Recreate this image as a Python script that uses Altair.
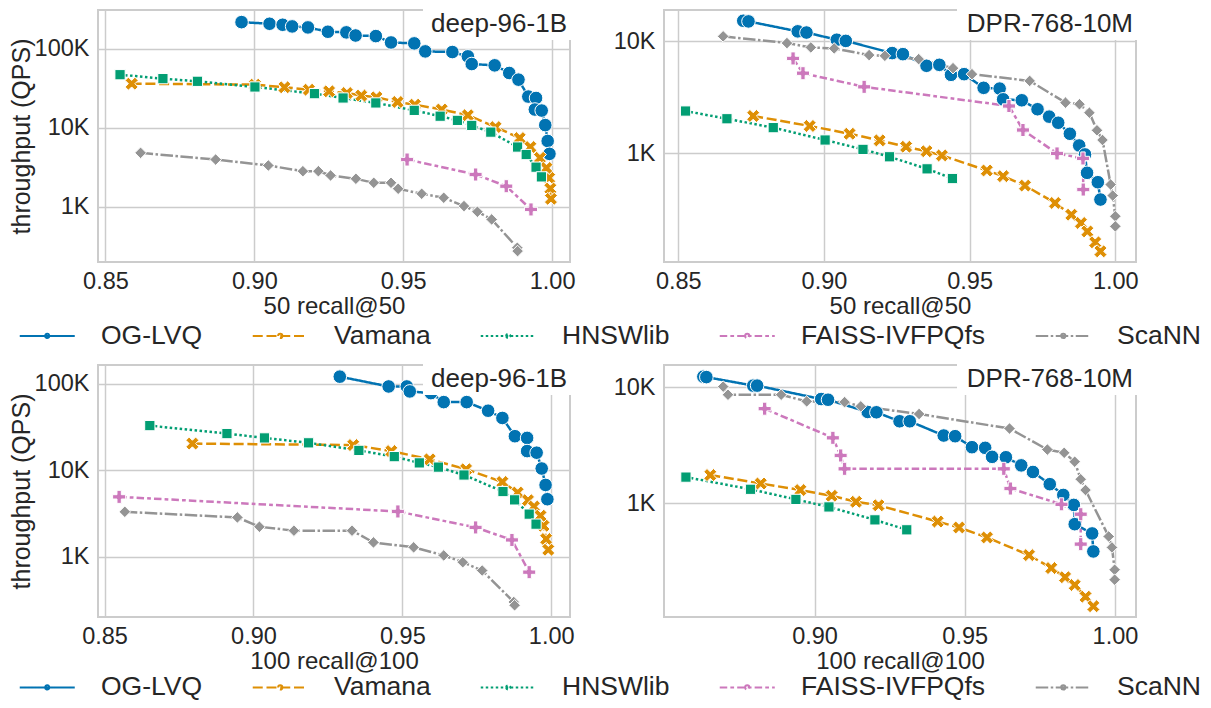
import altair as alt
import pandas as pd

FONT = "Liberation Sans"
TXT = "#262626"

METHODS = ["OG-LVQ", "Vamana", "HNSWlib", "FAISS-IVFPQfs", "ScaNN"]
COLORS = ["#0173b2", "#de8f05", "#029e73", "#cc78bc", "#949494"]
DASHES = [[1, 0], [10, 3.75], [2.5, 2.5], [7.5, 3.1, 3.75, 3.1], [12.5, 2.5, 2.5, 2.5]]
X_PATH = "M0.5,-1L1,-0.5L0.5,0L1,0.5L0.5,1L0,0.5L-0.5,1L-1,0.5L-0.5,0L-1,-0.5L-0.5,-1L0,-0.5Z"
P_PATH = "M-0.333,-1H0.333V-0.333H1V0.333H0.333V1H-0.333V0.333H-1V-0.333H-0.333Z"
SHAPES = ["circle", X_PATH, "square", P_PATH, "diamond"]
SIZES = [185, 170, 105, 170, 135]
LEGEND_SYMBOL = "M-3.93,0H3.93M-0.3,0A0.3,0.3,0,1,1,0.3,0A0.3,0.3,0,1,1,-0.3,0"

# ---------------- deep-96-1B, 50 recall@50 ----------------
d50_oglvq_recall = [0.8957, 0.9051, 0.9095, 0.9127, 0.9180, 0.9247, 0.9309, 0.9340, 0.9408, 0.9459,
                    0.9537, 0.9574, 0.9665, 0.9717, 0.9730, 0.9807, 0.9856, 0.9887, 0.9920, 0.9946,
                    0.9942, 0.9965, 0.9977, 0.9985, 0.9991]
d50_oglvq_qps = [217e3, 207e3, 201e3, 191.5e3, 186e3, 164e3, 161e3, 147e3, 144.5e3, 120e3,
                 116.8e3, 92.5e3, 90.8e3, 80e3, 64e3, 61.6e3, 49.3e3, 40.6e3, 24.8e3, 23.8e3,
                 17e3, 16.5e3, 10.8e3, 6.8e3, 4.67e3]
d50_vamana_recall = [0.8588, 0.9002, 0.9101, 0.9183, 0.9251, 0.9311, 0.9359, 0.9410, 0.9481, 0.9539,
                     0.9629, 0.9717, 0.9810, 0.9891, 0.9927, 0.9959, 0.9981, 0.9990, 0.9994, 0.9996]
d50_vamana_qps = [36.1e3, 35.1e3, 32.5e3, 30.3e3, 28.9e3, 27.5e3, 25.5e3, 24.3e3, 21.2e3, 19.6e3,
                  17.0e3, 14.4e3, 10.2e3, 7.4e3, 5.7e3, 4.16e3, 3.1e3, 2.32e3, 1.7e3, 1.26e3]
d50_hnsw_recall = [0.8549, 0.8693, 0.8809, 0.9002, 0.9202, 0.9298, 0.9408, 0.9537, 0.9624, 0.9682,
                   0.9730, 0.9794, 0.9884, 0.9913, 0.9946, 0.9964]
d50_hnsw_qps = [46.9e3, 41.8e3, 38.7e3, 32.8e3, 27.0e3, 23.8e3, 20.6e3, 16.6e3, 14.0e3, 12.4e3,
                10.7e3, 8.8e3, 5.7e3, 4.58e3, 3.17e3, 2.39e3]
d50_faiss_recall = [0.9513, 0.9743, 0.9846, 0.9929]
d50_faiss_qps = [3.96e3, 2.56e3, 1.82e3, 925]
d50_scann_recall = [0.8618, 0.8870, 0.9047, 0.9163, 0.9215, 0.9256, 0.9341, 0.9401, 0.9459, 0.9483,
                    0.9562, 0.9636, 0.9704, 0.9749, 0.9797, 0.9883, 0.9884]
d50_scann_qps = [4.81e3, 3.96e3, 3.33e3, 2.82e3, 2.82e3, 2.49e3, 2.26e3, 2.01e3, 2.01e3, 1.69e3,
                 1.46e3, 1.30e3, 1.02e3, 865, 692, 303, 275]

# ---------------- DPR-768-10M, 50 recall@50 ----------------
p50_oglvq_recall = [0.8723, 0.8741, 0.8910, 0.8940, 0.9044, 0.9075, 0.9234, 0.9271, 0.9352, 0.9396,
                    0.9436, 0.9481, 0.9548, 0.9603, 0.9615, 0.9679, 0.9733, 0.9773, 0.9804, 0.9844,
                    0.9876, 0.9896, 0.9903, 0.9940, 0.9949]
p50_oglvq_qps = [15.3e3, 15.1e3, 12.3e3, 12.0e3, 10.35e3, 10.1e3, 7.86e3, 7.69e3, 6.05e3, 6.17e3,
                 5.02e3, 5.09e3, 3.84e3, 3.78e3, 3.03e3, 2.97e3, 2.47e3, 2.12e3, 1.87e3, 1.49e3,
                 1.17e3, 973, 666, 549, 384]
p50_vamana_recall = [0.8757, 0.8951, 0.9088, 0.9191, 0.9282, 0.9352, 0.9405, 0.9559, 0.9615, 0.9690,
                     0.9793, 0.9849, 0.9882, 0.9904, 0.9931, 0.9949]
p50_vamana_qps = [2.15e3, 1.75e3, 1.49e3, 1.30e3, 1.14e3, 1.04e3, 953, 699, 622, 512,
                  358, 281, 237, 199, 159, 132]
p50_hnsw_recall = [0.8525, 0.8667, 0.8826, 0.9004, 0.9134, 0.9225, 0.9354, 0.9441]
p50_hnsw_qps = [2.38e3, 2.03e3, 1.69e3, 1.31e3, 1.08e3, 927, 723, 592]
p50_faiss_recall = [0.8894, 0.8928, 0.9138, 0.9635, 0.9683, 0.9800, 0.9889, 0.9890]
p50_faiss_qps = [7.04e3, 5.19e3, 3.92e3, 2.64e3, 1.61e3, 993, 896, 472]
p50_scann_recall = [0.8654, 0.8873, 0.8955, 0.9035, 0.9155, 0.9209, 0.9325, 0.9443, 0.9508, 0.9706,
                    0.9829, 0.9877, 0.9911, 0.9937, 0.9956, 0.9984, 0.9991, 1.0000, 1.0000]
p50_scann_qps = [11.1e3, 9.66e3, 8.83e3, 8.65e3, 7.54e3, 7.43e3, 6.94e3, 5.76e3, 5.09e3, 4.43e3,
                 2.83e3, 2.74e3, 2.30e3, 1.60e3, 1.31e3, 523, 417, 272, 221]

# ---------------- deep-96-1B, 100 recall@100 ----------------
d100_oglvq_recall = [0.9290, 0.9454, 0.9515, 0.9525, 0.9596, 0.9639, 0.9716, 0.9788, 0.9836, 0.9878,
                     0.9919, 0.9919, 0.9951, 0.9968, 0.9981, 0.9987]
d100_oglvq_qps = [121e3, 93.2e3, 93.2e3, 81.7e3, 78.1e3, 61.5e3, 61.5e3, 48.9e3, 40.3e3, 24.8e3,
                  23.7e3, 16.7e3, 16.0e3, 10.5e3, 6.78e3, 4.64e3]
d100_vamana_recall = [0.8795, 0.9335, 0.9463, 0.9592, 0.9714, 0.9836, 0.9887, 0.9922, 0.9942, 0.9964,
                      0.9974, 0.9983, 0.9990]
d100_vamana_qps = [20.4e3, 19.6e3, 16.7e3, 13.4e3, 10.3e3, 7.34e3, 5.54e3, 4.52e3, 3.82e3, 2.99e3,
                   2.29e3, 1.61e3, 1.21e3]
d100_hnsw_recall = [0.8652, 0.8911, 0.9037, 0.9185, 0.9354, 0.9473, 0.9557, 0.9621, 0.9707, 0.9838,
                    0.9877, 0.9926, 0.9949]
d100_hnsw_qps = [32.9e3, 26.6e3, 23.7e3, 20.8e3, 17.0e3, 14.4e3, 12.2e3, 10.9e3, 8.84e3, 5.69e3,
                 4.56e3, 3.12e3, 2.39e3]
d100_faiss_recall = [0.8549, 0.9485, 0.9746, 0.9868, 0.9926]
d100_faiss_qps = [4.94e3, 3.35e3, 2.19e3, 1.57e3, 666]
d100_scann_recall = [0.8568, 0.8946, 0.9020, 0.9136, 0.9331, 0.9403, 0.9538, 0.9639, 0.9703, 0.9768,
                     0.9874, 0.9877]
d100_scann_qps = [3.32e3, 2.86e3, 2.23e3, 2.01e3, 2.01e3, 1.47e3, 1.29e3, 1.04e3, 868, 696, 301, 276]

# ---------------- DPR-768-10M, 100 recall@100 ----------------
p100_oglvq_recall = [0.8630, 0.8640, 0.8796, 0.8809, 0.9022, 0.9045, 0.9177, 0.9206, 0.9283, 0.9317,
                     0.9430, 0.9468, 0.9524, 0.9568, 0.9591, 0.9637, 0.9688, 0.9727, 0.9783, 0.9828,
                     0.9863, 0.9866, 0.9924, 0.9928]
p100_oglvq_qps = [12.3e3, 12.2e3, 10.3e3, 10.3e3, 7.89e3, 7.79e3, 6.11e3, 6.07e3, 5.08e3, 5.08e3,
                  3.83e3, 3.78e3, 3.04e3, 3.0e3, 2.51e3, 2.49e3, 2.12e3, 1.86e3, 1.46e3, 1.18e3,
                  968, 661, 550, 385]
p100_vamana_recall = [0.8653, 0.8821, 0.8953, 0.9057, 0.9138, 0.9213, 0.9410, 0.9481, 0.9574, 0.9714,
                      0.9788, 0.9834, 0.9866, 0.9902, 0.9928]
p100_vamana_qps = [1.75e3, 1.48e3, 1.30e3, 1.16e3, 1.03e3, 961, 696, 619, 508, 358,
                   277, 231, 198, 157, 130]
p100_hnsw_recall = [0.8572, 0.8787, 0.8938, 0.9048, 0.9201, 0.9307]
p100_hnsw_qps = [1.68e3, 1.32e3, 1.08e3, 930, 720, 591]
p100_faiss_recall = [0.8834, 0.9061, 0.9087, 0.9100, 0.9630, 0.9652, 0.9822, 0.9886, 0.9886]
p100_faiss_qps = [6.52e3, 3.66e3, 2.58e3, 1.98e3, 1.98e3, 1.34e3, 980, 805, 445]
p100_scann_recall = [0.8696, 0.8712, 0.8889, 0.8974, 0.9100, 0.9154, 0.9348, 0.9649, 0.9775, 0.9831,
                     0.9866, 0.9886, 0.9902, 0.9979, 0.9990, 0.9999, 0.9999]
p100_scann_qps = [10.1e3, 8.6e3, 8.6e3, 7.54e3, 7.43e3, 6.83e3, 5.87e3, 4.40e3, 2.90e3, 2.72e3,
                  2.28e3, 1.61e3, 1.30e3, 518, 417, 268, 220]


def make_df(series):
    rows = []
    for m, (rec, qps) in zip(METHODS, series):
        for i, (a, b) in enumerate(zip(rec, qps)):
            rows.append({"method": m, "recall": a, "qps": b, "idx": i})
    return pd.DataFrame(rows)


W, H = 472, 252


def make_legend(legend_y):
    return alt.Legend(
        title=None, orient="none", legendX=-64, legendY=legend_y, direction="horizontal", columns=5,
        symbolType=LEGEND_SYMBOL, symbolSize=196, symbolStrokeWidth=2,
        labelFont=FONT, labelFontSize=26.5, labelColor=TXT, labelOffset=40.5, labelLimit=400,
        columnPadding=45,
    )


def panel(series, title, xtitle, xdom, ydom, xvals, yvals, ytitle, box_x, legend_y):
    df = make_df(series)
    x = alt.X("recall:Q", scale=alt.Scale(domain=xdom, nice=False, zero=False),
              axis=alt.Axis(values=xvals, format=".2f", title=xtitle))
    yaxis_kw = dict(values=yvals,
                    labelExpr="datum.value >= 1000 ? format(datum.value / 1000, 'd') + 'K' : format(datum.value, 'd')")
    yaxis_kw["title"] = ytitle if ytitle else None
    y = alt.Y("qps:Q", scale=alt.Scale(type="log", domain=ydom, nice=False), axis=alt.Axis(**yaxis_kw))
    cscale = alt.Scale(domain=METHODS, range=COLORS)
    dscale = alt.Scale(domain=METHODS, range=DASHES)
    leg = make_legend(legend_y) if legend_y is not None else None
    lines = alt.Chart(df).mark_line(strokeWidth=2.5).encode(
        x=x, y=y,
        color=alt.Color("method:N", scale=cscale, legend=leg),
        strokeDash=alt.StrokeDash("method:N", scale=dscale, legend=leg),
        order=alt.Order("idx:Q"))
    layers = [lines]
    for m, c, s, z in zip(METHODS, COLORS, SHAPES, SIZES):
        layers.append(
            alt.Chart(df).transform_filter(alt.datum.method == m).mark_point(
                filled=True, opacity=1, fill=c, stroke="white", strokeWidth=1, shape=s, size=z
            ).encode(x=x, y=y)
        )
    tdf = pd.DataFrame({"label": [title]})
    box = alt.Chart(tdf).mark_rect(color="white").encode(
        x=alt.value(box_x), x2=alt.value(W + 4), y=alt.value(-6), y2=alt.value(30))
    txt = alt.Chart(tdf).mark_text(align="right", baseline="middle", font=FONT, fontSize=26, color=TXT).encode(
        x=alt.value(W - 3), y=alt.value(14), text="label:N")
    layers += [box, txt]
    return alt.layer(*layers).properties(width=W, height=H)


p1 = panel([(d50_oglvq_recall, d50_oglvq_qps), (d50_vamana_recall, d50_vamana_qps),
            (d50_hnsw_recall, d50_hnsw_qps), (d50_faiss_recall, d50_faiss_qps),
            (d50_scann_recall, d50_scann_qps)],
           "deep-96-1B", "50 recall@50", [0.8475, 1.0060], [200, 309000],
           [0.85, 0.90, 0.95, 1.00], [1e3, 1e4, 1e5], "throughput (QPS)", 325, 312.5)
p2 = panel([(p50_oglvq_recall, p50_oglvq_qps), (p50_vamana_recall, p50_vamana_qps),
            (p50_hnsw_recall, p50_hnsw_qps), (p50_faiss_recall, p50_faiss_qps),
            (p50_scann_recall, p50_scann_qps)],
           "DPR-768-10M", "50 recall@50", [0.8451, 1.0071], [106, 19100],
           [0.85, 0.90, 0.95, 1.00], [1e3, 1e4], None, 293, None)
p3 = panel([(d100_oglvq_recall, d100_oglvq_qps), (d100_vamana_recall, d100_vamana_qps),
            (d100_hnsw_recall, d100_hnsw_qps), (d100_faiss_recall, d100_faiss_qps),
            (d100_scann_recall, d100_scann_qps)],
           "deep-96-1B", "100 recall@100", [0.8478, 1.0063], [202, 165000],
           [0.85, 0.90, 0.95, 1.00], [1e3, 1e4, 1e5], "throughput (QPS)", 325, 309)
p4 = panel([(p100_oglvq_recall, p100_oglvq_qps), (p100_vamana_recall, p100_vamana_qps),
            (p100_hnsw_recall, p100_hnsw_qps), (p100_faiss_recall, p100_faiss_qps),
            (p100_scann_recall, p100_scann_qps)],
           "DPR-768-10M", "100 recall@100", [0.8499, 1.0070], [105, 15500],
           [0.90, 0.95, 1.00], [1e3, 1e4], None, 293, None)

chart = alt.concat(
    p1, p2, p3, p4, columns=2, spacing=alt.RowColnumber(row=103, column=94), bounds="flush"
).resolve_scale(
    color="independent", strokeDash="independent"
).properties(
    padding={"left": 0, "top": -5, "right": 0, "bottom": 0}
).configure_axis(
    labelFont=FONT, titleFont=FONT, labelFontSize=23.5, titleFontSize=24,
    labelColor=TXT, titleColor=TXT, titleFontWeight="normal",
    grid=True, gridColor="#cccccc", gridWidth=1.5,
    domain=False, ticks=False, tickSize=0, labelFlush=False,
).configure_axisX(
    labelPadding=7, titlePadding=2,
).configure_axisY(
    labelPadding=9, titlePadding=0, titleFontSize=25,
).configure_view(
    stroke="#cccccc", strokeWidth=2,
)

chart.save("out.html", embed_options={"renderer": "svg", "actions": False})
